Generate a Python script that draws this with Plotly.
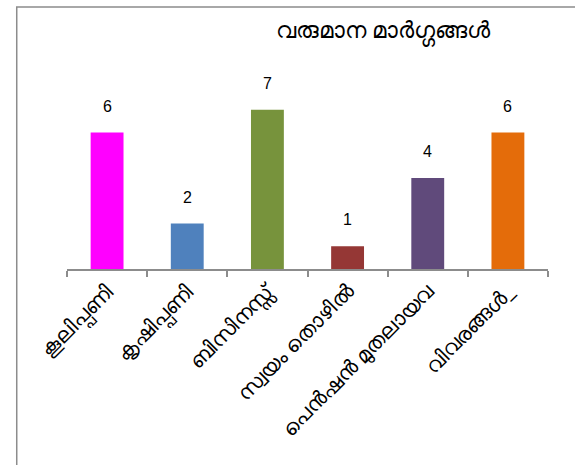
import plotly.graph_objects as go

# Income sources and counts
categories = ["കൂലിപ്പണി", "കൃഷിപ്പണി", "ബിസിനസ്സ്", "സ്വയം തൊഴിൽ", "പെൻഷൻ മുതലായവ", "വിവരങ്ങൾ_"]
values = [6, 2, 7, 1, 4, 6]
colors = ["#FF00FF", "#4F81BD", "#77933C", "#953735", "#604A7B", "#E46C0A"]
title_text = "വരുമാന മാർഗ്ഗങ്ങൾ"

fig = go.Figure()
fig.add_trace(go.Bar(
    x=categories,
    y=values,
    marker=dict(color=colors, line=dict(width=0)),
    hoverinfo="x+y",
))

# value labels above each bar
for c, v in zip(categories, values):
    fig.add_annotation(
        x=c, y=v, text=str(v), showarrow=False,
        yanchor="bottom", yshift=16,
        font=dict(family="Liberation Sans, Arial", size=16, color="#000000"),
    )

# outer chart frame
fig.add_shape(type="rect", xref="paper", yref="paper",
              x0=-0.1045, x1=1.2, y0=-1.5, y1=1.440,
              line=dict(color="#8C8C8C", width=1.5), fillcolor="rgba(0,0,0,0)")

fig.update_layout(
    width=575, height=465,
    margin=dict(l=67, r=27, t=87, b=196),
    paper_bgcolor="white", plot_bgcolor="white",
    bargap=0.59,
    showlegend=False,
    title=dict(text=title_text, x=0.666, xanchor="center", y=0.935, yanchor="middle",
               font=dict(family="Noto Sans, DejaVu Sans", size=23, color="#000000")),
    font=dict(family="Noto Sans, DejaVu Sans", color="#000000"),
)
fig.update_xaxes(
    type="category",
    showline=True, linecolor="#8C8C8C", linewidth=2,
    ticks="outside", tickson="boundaries", ticklen=6, tickcolor="#8C8C8C", tickwidth=2,
    tickangle=-45, tickfont=dict(size=21, color="#000000"),
    showgrid=False,
)
fig.update_yaxes(range=[0, 8], visible=False, showgrid=False, zeroline=False)

fig.write_html("out.html")
